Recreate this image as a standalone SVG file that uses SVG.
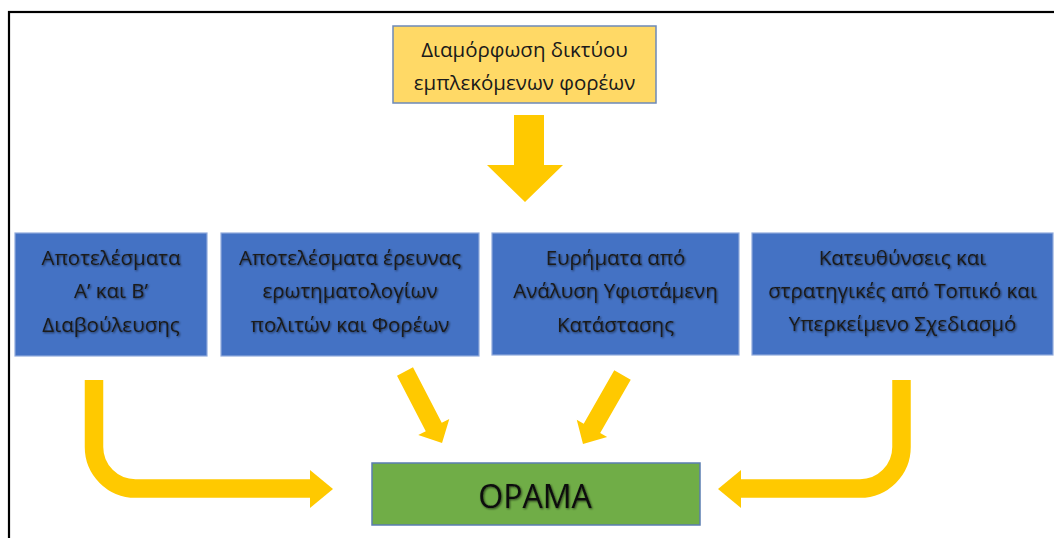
<svg xmlns="http://www.w3.org/2000/svg" width="1054" height="538" viewBox="0 0 1054 538">
<defs>
<filter id="sh" x="-5%" y="-20%" width="110%" height="150%">
<feGaussianBlur in="SourceAlpha" stdDeviation="1"/>
<feOffset dx="1" dy="1" result="b"/>
<feComponentTransfer><feFuncA type="linear" slope="0.6"/></feComponentTransfer>
<feMerge><feMergeNode/><feMergeNode in="SourceGraphic"/></feMerge>
</filter>
</defs>
<style>
.t{font-family:"Open Sans","Noto Sans",sans-serif;font-size:20.5px;fill:#1a1a1a;text-anchor:middle}
.sh{filter:url(#sh)}
.blue{fill:#4472C4;stroke:#8FAADC;stroke-width:1.2}
.arr{fill:#FFC900}
.carr{fill:none;stroke:#FFC900;stroke-width:18.5}
</style>
<rect width="1054" height="538" fill="#fff"/>
<rect x="9" y="12" width="1100" height="600" fill="none" stroke="#000" stroke-width="2.2"/>
<g id="n-network">
<rect x="393" y="26" width="263" height="77" fill="#FFD966" stroke="#6D89B8" stroke-width="1.5"/>
<text class="t" x="524.5" y="57">Διαμόρφωση δικτύου</text>
<text class="t" x="524.5" y="90">εμπλεκόμενων φορέων</text>
</g>
<g id="n-consult">
<rect class="blue" x="15" y="233" width="192" height="123"/>
<g class="sh">
<text class="t" x="111" y="265">Αποτελέσματα</text>
<text class="t" x="111" y="298">Α’ και Β’</text>
<text class="t" x="111" y="332">Διαβούλευσης</text>
</g>
</g>
<g id="n-survey">
<rect class="blue" x="221" y="233" width="258" height="123"/>
<g class="sh">
<text class="t" x="350" y="265">Αποτελέσματα έρευνας</text>
<text class="t" x="350" y="298">ερωτηματολογίων</text>
<text class="t" x="350" y="332">πολιτών και Φορέων</text>
</g>
</g>
<g id="n-findings">
<rect class="blue" x="492" y="233" width="247" height="122"/>
<g class="sh">
<text class="t" x="615.5" y="265">Ευρήματα από</text>
<text class="t" x="615.5" y="298">Ανάλυση Υφιστάμενη</text>
<text class="t" x="615.5" y="332">Κατάστασης</text>
</g>
</g>
<g id="n-plans">
<rect class="blue" x="752" y="233" width="301" height="122"/>
<g class="sh">
<text class="t" x="902.5" y="265">Κατευθύνσεις και</text>
<text class="t" x="902.5" y="298">στρατηγικές από Τοπικό και</text>
<text class="t" x="902.5" y="331">Υπερκείμενο Σχεδιασμό</text>
</g>
</g>
<g id="n-vision">
<rect x="372" y="463" width="328" height="62" fill="#70AD47" stroke="#5B7DB1" stroke-width="1.5"/>
<text class="sh" x="535" y="508" style="font-family:'Open Sans','Noto Sans',sans-serif;font-size:32px;fill:#111;text-anchor:middle">ΟΡΑΜΑ</text>
</g>
<g id="connectors">
<polygon class="arr" points="514,115 544,115 544,165 563,165 525,202 487,165 514,165"/>
<polygon class="arr" transform="translate(405,371.5) rotate(62.6)" points="0,-9 62.5,-9 62.5,-17.5 80.5,0 62.5,17.5 62.5,9 0,9"/>
<polygon class="arr" transform="translate(622.5,375) rotate(119.8)" points="0,-9.5 61.5,-9.5 61.5,-17.5 79.5,0 61.5,17.5 61.5,9.5 0,9.5"/>
<path class="carr" d="M94,380 V447 A41.5,41.5 0 0 0 135.5,488.5 H311"/>
<polygon class="arr" points="310,470 333,489 310,508"/>
<path class="carr" d="M901.5,380 V447 A41.5,41.5 0 0 1 860,488.5 H740"/>
<polygon class="arr" points="741,470 718,489 741,508"/>
</g>
</svg>
